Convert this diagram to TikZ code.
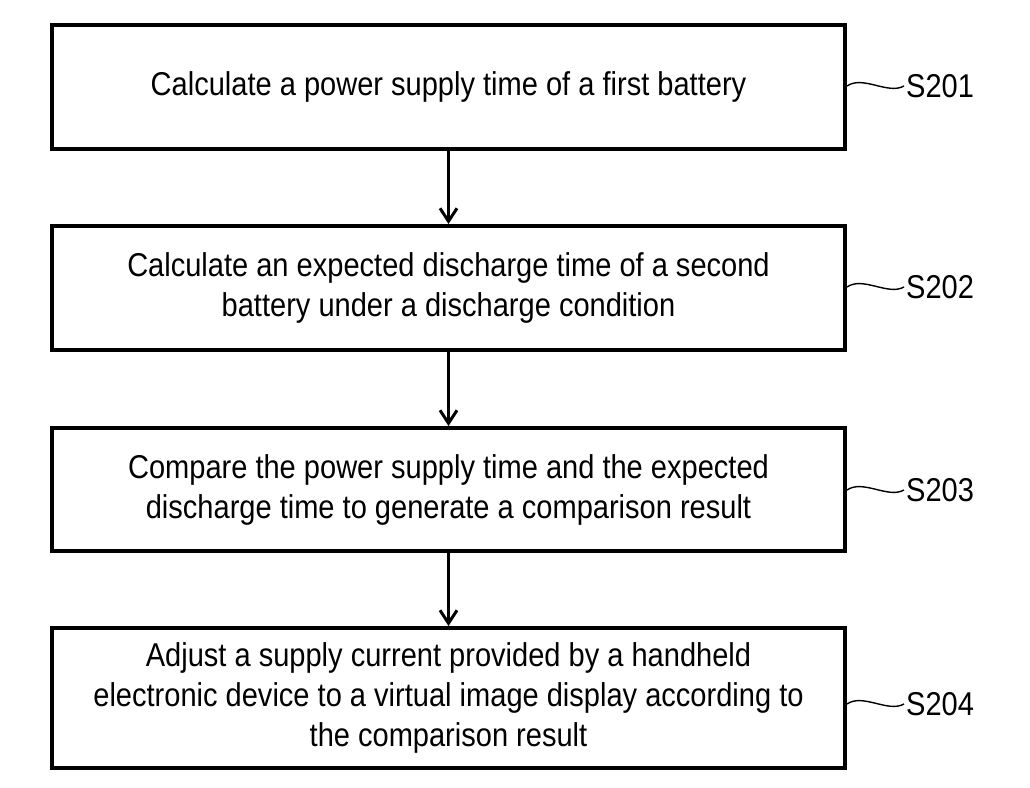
\documentclass[tikz,border=0pt]{standalone}
\usepackage{fontspec}
\setmainfont{Liberation Sans}[FakeStretch=0.88]
\usepackage{tikz}
\usetikzlibrary{positioning,arrows.meta,calc}

\tikzset{
	stepbox/.style={draw, line width=4pt, minimum width=793pt, align=center,
		font=\fontsize{33pt}{40pt}\selectfont, inner sep=0pt},
	steplabel/.style={anchor=west, inner sep=2pt, font=\fontsize{33pt}{40pt}\selectfont},
	flowarrow/.style={line width=2.6pt, -{Straight Barb[length=13pt,width=17pt,line width=3pt]}},
	wave/.style={line width=1.4pt}
}

\begin{document}
\begin{tikzpicture}[x=1pt, y=-1pt]
		\useasboundingbox (0,0) rectangle (1030,787);
		% steps
		\node[stepbox, minimum height=124pt] (calc1) at (448.5,87)
			{Calculate a power supply time of a first battery};
		\node[stepbox, minimum height=124pt] (calc2) at (448.5,288)
			{Calculate an expected discharge time of a second\\
			battery under a discharge condition};
		\node[stepbox, minimum height=123pt] (compare) at (448.5,489.5)
			{Compare the power supply time and the expected\\
			discharge time to generate a comparison result};
		\node[stepbox, minimum height=140pt] (adjust) at (448.5,698)
			{Adjust a supply current provided by a handheld\\
			electronic device to a virtual image display according to\\
			the comparison result};
		% flow
		\draw[flowarrow] (calc1.south) -- (calc2.north);
		\draw[flowarrow] (calc2.south) -- (compare.north);
		\draw[flowarrow] (compare.south) -- (adjust.north);
		% step numbers
		\node[steplabel] (s201) at (904,86) {S201};
		\node[steplabel] (s202) at (904,287) {S202};
		\node[steplabel] (s203) at (904,490) {S203};
		\node[steplabel] (s204) at (904,704) {S204};
		\foreach \b/\s in {calc1/s201, calc2/s202, compare/s203, adjust/s204}
			\draw[wave] (\b.east |- \s.west) .. controls +(16,-11) and +(-16,9) .. (\s.west);
	\end{tikzpicture}
\end{document}
